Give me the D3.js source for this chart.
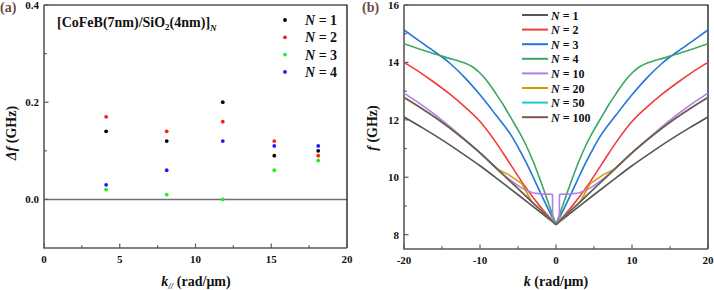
<!DOCTYPE html>
<html>
<head>
<meta charset="utf-8">
<script src="https://cdn.jsdelivr.net/npm/d3@7"></script>
<style>
  body { margin: 0; background: #fff; }
  svg text { font-family: "Liberation Serif", "Times New Roman", serif; font-weight: bold; fill: #111; }
</style>
</head>
<body>
<svg id="fig" width="714" height="290"></svg>
<script>
// ---- panel (a): frequency splitting vs k ----
const kPar = [4.1, 8.1, 11.8, 15.2, 18.1];
const dfN1 = [0.14, 0.12, 0.20, 0.09, 0.10];
const dfN2 = [0.17, 0.14, 0.16, 0.12, 0.09];
const dfN3 = [0.02, 0.01, 0.00, 0.06, 0.08];
const dfN4 = [0.03, 0.06, 0.12, 0.11, 0.11];
const seriesA = [
  { label: '1', color: '#000000', values: dfN1 },
  { label: '2', color: '#ff1a1a', values: dfN2 },
  { label: '3', color: '#22ee22', values: dfN3 },
  { label: '4', color: '#1a1aff', values: dfN4 },
];

// ---- panel (b): dispersion f(k), half branches [|k|, f] (symmetric in k) ----
const fN1 = [[0, 8.35], [2.5, 8.87], [5, 9.39], [7.5, 9.9], [10, 10.4], [12.5, 10.86], [15, 11.3], [17.5, 11.71], [20, 12.1]];
const fN2 = [[0, 8.35], [2, 8.95], [4, 9.65], [6, 10.45], [8, 11.25], [10, 11.94], [12, 12.45], [14, 12.9], [16, 13.3], [18, 13.67], [20, 14.0]];
const fN3 = [[0, 8.35], [1, 8.88], [2, 9.43], [3, 10.0], [4, 10.55], [5, 11.05], [6, 11.5], [8, 12.2], [10, 12.87], [12, 13.47], [14, 13.98], [16, 14.38], [18, 14.75], [20, 15.13]];
const fN4 = [[0, 8.35], [1, 9.1], [2, 9.85], [3, 10.55], [4, 11.15], [5, 11.65], [6, 12.1], [7, 12.55], [8, 12.95], [9, 13.33], [10, 13.63], [11, 13.85], [12, 13.98], [13, 14.07], [14, 14.14], [15, 14.22], [17, 14.38], [20, 14.65]];
const fN10 = [[0, 8.35], [0.44, 8.55], [0.46, 9.4], [1, 9.41], [2, 9.42], [3, 9.45], [3.5, 9.5], [4.5, 9.62], [5.5, 9.8], [6.5, 10.0], [8, 10.35], [10, 10.86], [12, 11.32], [14, 11.77], [16, 12.2], [18, 12.58], [20, 12.93]];
const fN20 = [[0, 8.35], [2, 8.85], [3.2, 9.15], [4.5, 9.78], [6.3, 10.1], [7.5, 10.25], [10, 10.85], [12, 11.3], [14, 11.72], [16, 12.1], [18, 12.45], [20, 12.78]];
const fN50 = [[0, 8.35], [2, 8.85], [4, 9.35], [6, 9.85], [8, 10.35], [10, 10.85], [12, 11.3], [14, 11.72], [16, 12.1], [18, 12.45], [20, 12.78]];
const fN100 = [[0, 8.35], [2, 8.85], [4, 9.35], [6, 9.85], [8, 10.35], [10, 10.85], [12, 11.3], [14, 11.72], [16, 12.1], [18, 12.45], [20, 12.78]];
const seriesB = [
  { label: '1', color: '#555555', half: fN1, smooth: true },
  { label: '2', color: '#f03c3c', half: fN2, smooth: true },
  { label: '3', color: '#2274dc', half: fN3, smooth: true },
  { label: '4', color: '#3aa860', half: fN4, smooth: true },
  { label: '10', color: '#b47ee6', half: fN10, smooth: false },
  { label: '20', color: '#d09a06', half: fN20, smooth: false },
  { label: '50', color: '#1ec8c8', half: fN50, smooth: true },
  { label: '100', color: '#7d5550', half: fN100, smooth: true },
];

const svg = d3.select('#fig');
const axisGray = '#5a5a5a';

function frame(g, x, y) {
  const [x0, x1] = x.range();
  const [y0, y1] = y.range();
  // top and right border (black)
  g.append('path')
    .attr('d', `M${x0},${y1}H${x1}V${y0}`)
    .attr('fill', 'none').attr('stroke', '#000').attr('stroke-width', 1.2);
  // left and bottom axis (gray)
  g.append('path')
    .attr('d', `M${x0},${y1}V${y0}H${x1}`)
    .attr('fill', 'none').attr('stroke', axisGray).attr('stroke-width', 1.6);
}

function ticks(g, x, y, xMajor, xMinor, yMajor, yMinor, xFmt, yFmt) {
  const [x0] = x.range();
  const [y0] = y.range();
  const tg = g.append('g').attr('stroke', axisGray).attr('stroke-width', 1.2);
  xMajor.forEach(v => tg.append('line').attr('x1', x(v)).attr('x2', x(v)).attr('y1', y0).attr('y2', y0 - 4.5));
  xMinor.forEach(v => tg.append('line').attr('x1', x(v)).attr('x2', x(v)).attr('y1', y0).attr('y2', y0 - 2.8));
  yMajor.forEach(v => tg.append('line').attr('y1', y(v)).attr('y2', y(v)).attr('x1', x0).attr('x2', x0 + 4.5));
  yMinor.forEach(v => tg.append('line').attr('y1', y(v)).attr('y2', y(v)).attr('x1', x0).attr('x2', x0 + 2.8));

  g.append('g').selectAll('text').data(xMajor).join('text')
    .attr('x', d => x(d)).attr('y', y0 + 15)
    .attr('text-anchor', 'middle').attr('font-size', 11)
    .text(xFmt);
  g.append('g').selectAll('text').data(yMajor).join('text')
    .attr('x', x0 - 5).attr('y', d => y(d) + 4)
    .attr('text-anchor', 'end').attr('font-size', 11)
    .text(yFmt);
}

// ================= panel (a) =================
const xA = d3.scaleLinear().domain([0, 20]).range([44, 347]);
const yA = d3.scaleLinear().domain([-0.1, 0.4]).range([248, 5]);
const gA = svg.append('g');

// zero line
gA.append('line')
  .attr('x1', xA(0)).attr('x2', xA(20)).attr('y1', yA(0)).attr('y2', yA(0))
  .attr('stroke', '#707070').attr('stroke-width', 1.5);

frame(gA, xA, yA);
ticks(gA, xA, yA, [0, 5, 10, 15, 20], [2.5, 7.5, 12.5, 17.5], [0, 0.2, 0.4], [0.1, 0.3],
  d => String(d), d3.format('.1f'));

seriesA.forEach(s => {
  gA.append('g').selectAll('circle')
    .data(s.values.map((v, i) => [kPar[i], v]))
    .join('circle')
    .attr('cx', d => xA(d[0])).attr('cy', d => yA(d[1]))
    .attr('r', 1.9).attr('fill', s.color);
});

// title
const title = gA.append('text').attr('x', 57).attr('y', 27).attr('font-size', 14);
title.append('tspan').text('[CoFeB(7nm)/SiO');
title.append('tspan').text('2').attr('font-size', 9).attr('dy', 3);
title.append('tspan').text('(4nm)]').attr('dy', -3);
title.append('tspan').text('N').attr('font-size', 9).attr('font-style', 'italic').attr('dy', 4);

// legend (a)
seriesA.forEach((s, i) => {
  const ly = 20 + i * 17.3;
  gA.append('circle').attr('cx', 285).attr('cy', ly).attr('r', 1.9).attr('fill', s.color);
  const t = gA.append('text').attr('x', 305).attr('y', ly + 5).attr('font-size', 14);
  t.append('tspan').attr('font-style', 'italic').text('N');
  t.append('tspan').text(' = ' + s.label);
});

// axis labels (a)
const ylA = gA.append('text')
  .attr('transform', 'translate(16,133) rotate(-90)')
  .attr('text-anchor', 'middle').attr('font-size', 14);
ylA.append('tspan').attr('font-style', 'italic').text('Δf');
ylA.append('tspan').text(' (GHz)');

const xlA = gA.append('text').attr('x', 196).attr('y', 286)
  .attr('text-anchor', 'middle').attr('font-size', 14);
xlA.append('tspan').attr('font-style', 'italic').text('k');
xlA.append('tspan').attr('font-style', 'italic').attr('font-size', 9).attr('dy', 3).text('//');
xlA.append('tspan').attr('dy', -3).text(' (rad/μm)');

gA.append('text').attr('x', 0).attr('y', 12).attr('font-size', 14)
  .style('fill', '#6e4a3e').text('(a)');

// ================= panel (b) =================
const xB = d3.scaleLinear().domain([-20, 20]).range([404, 708]);
const yB = d3.scaleLinear().domain([7.5, 16]).range([249, 5]);
const gB = svg.append('g');

frame(gB, xB, yB);
ticks(gB, xB, yB, [-20, -10, 0, 10, 20], [-15, -5, 5, 15], [8, 10, 12, 14, 16], [9, 11, 13, 15],
  d => String(d), d => String(d));

const clip = gB.append('clipPath').attr('id', 'clipB');
clip.append('rect').attr('x', 404).attr('y', 5).attr('width', 304).attr('height', 244);

const plotB = gB.append('g').attr('clip-path', 'url(#clipB)');
seriesB.forEach(s => {
  const line = d3.line()
    .x(d => xB(d[0])).y(d => yB(d[1]))
    .curve(s.smooth ? d3.curveMonotoneX : d3.curveLinear);
  const right = s.half;
  const left = s.half.map(d => [-d[0], d[1]]).reverse();
  [left, right].forEach(branch => {
    plotB.append('path')
      .attr('d', line(branch))
      .attr('fill', 'none').attr('stroke', s.color)
      .attr('stroke-width', 1.6).attr('stroke-linejoin', 'round');
  });
});

// legend (b)
seriesB.forEach((s, i) => {
  const ly = 15 + i * 14.6;
  gB.append('line').attr('x1', 522).attr('x2', 548).attr('y1', ly).attr('y2', ly)
    .attr('stroke', s.color).attr('stroke-width', 2);
  const t = gB.append('text').attr('x', 551).attr('y', ly + 4.5).attr('font-size', 12);
  t.append('tspan').attr('font-style', 'italic').text('N');
  t.append('tspan').text(' = ' + s.label);
});

// axis labels (b)
const ylB = gB.append('text')
  .attr('transform', 'translate(377,128) rotate(-90)')
  .attr('text-anchor', 'middle').attr('font-size', 14);
ylB.append('tspan').attr('font-style', 'italic').text('f');
ylB.append('tspan').text(' (GHz)');

const xlB = gB.append('text').attr('x', 556).attr('y', 286)
  .attr('text-anchor', 'middle').attr('font-size', 14);
xlB.append('tspan').attr('font-style', 'italic').text('k');
xlB.append('tspan').text(' (rad/μm)');

gB.append('text').attr('x', 362).attr('y', 12).attr('font-size', 14)
  .style('fill', '#6e4a3e').text('(b)');
</script>
</body>
</html>
